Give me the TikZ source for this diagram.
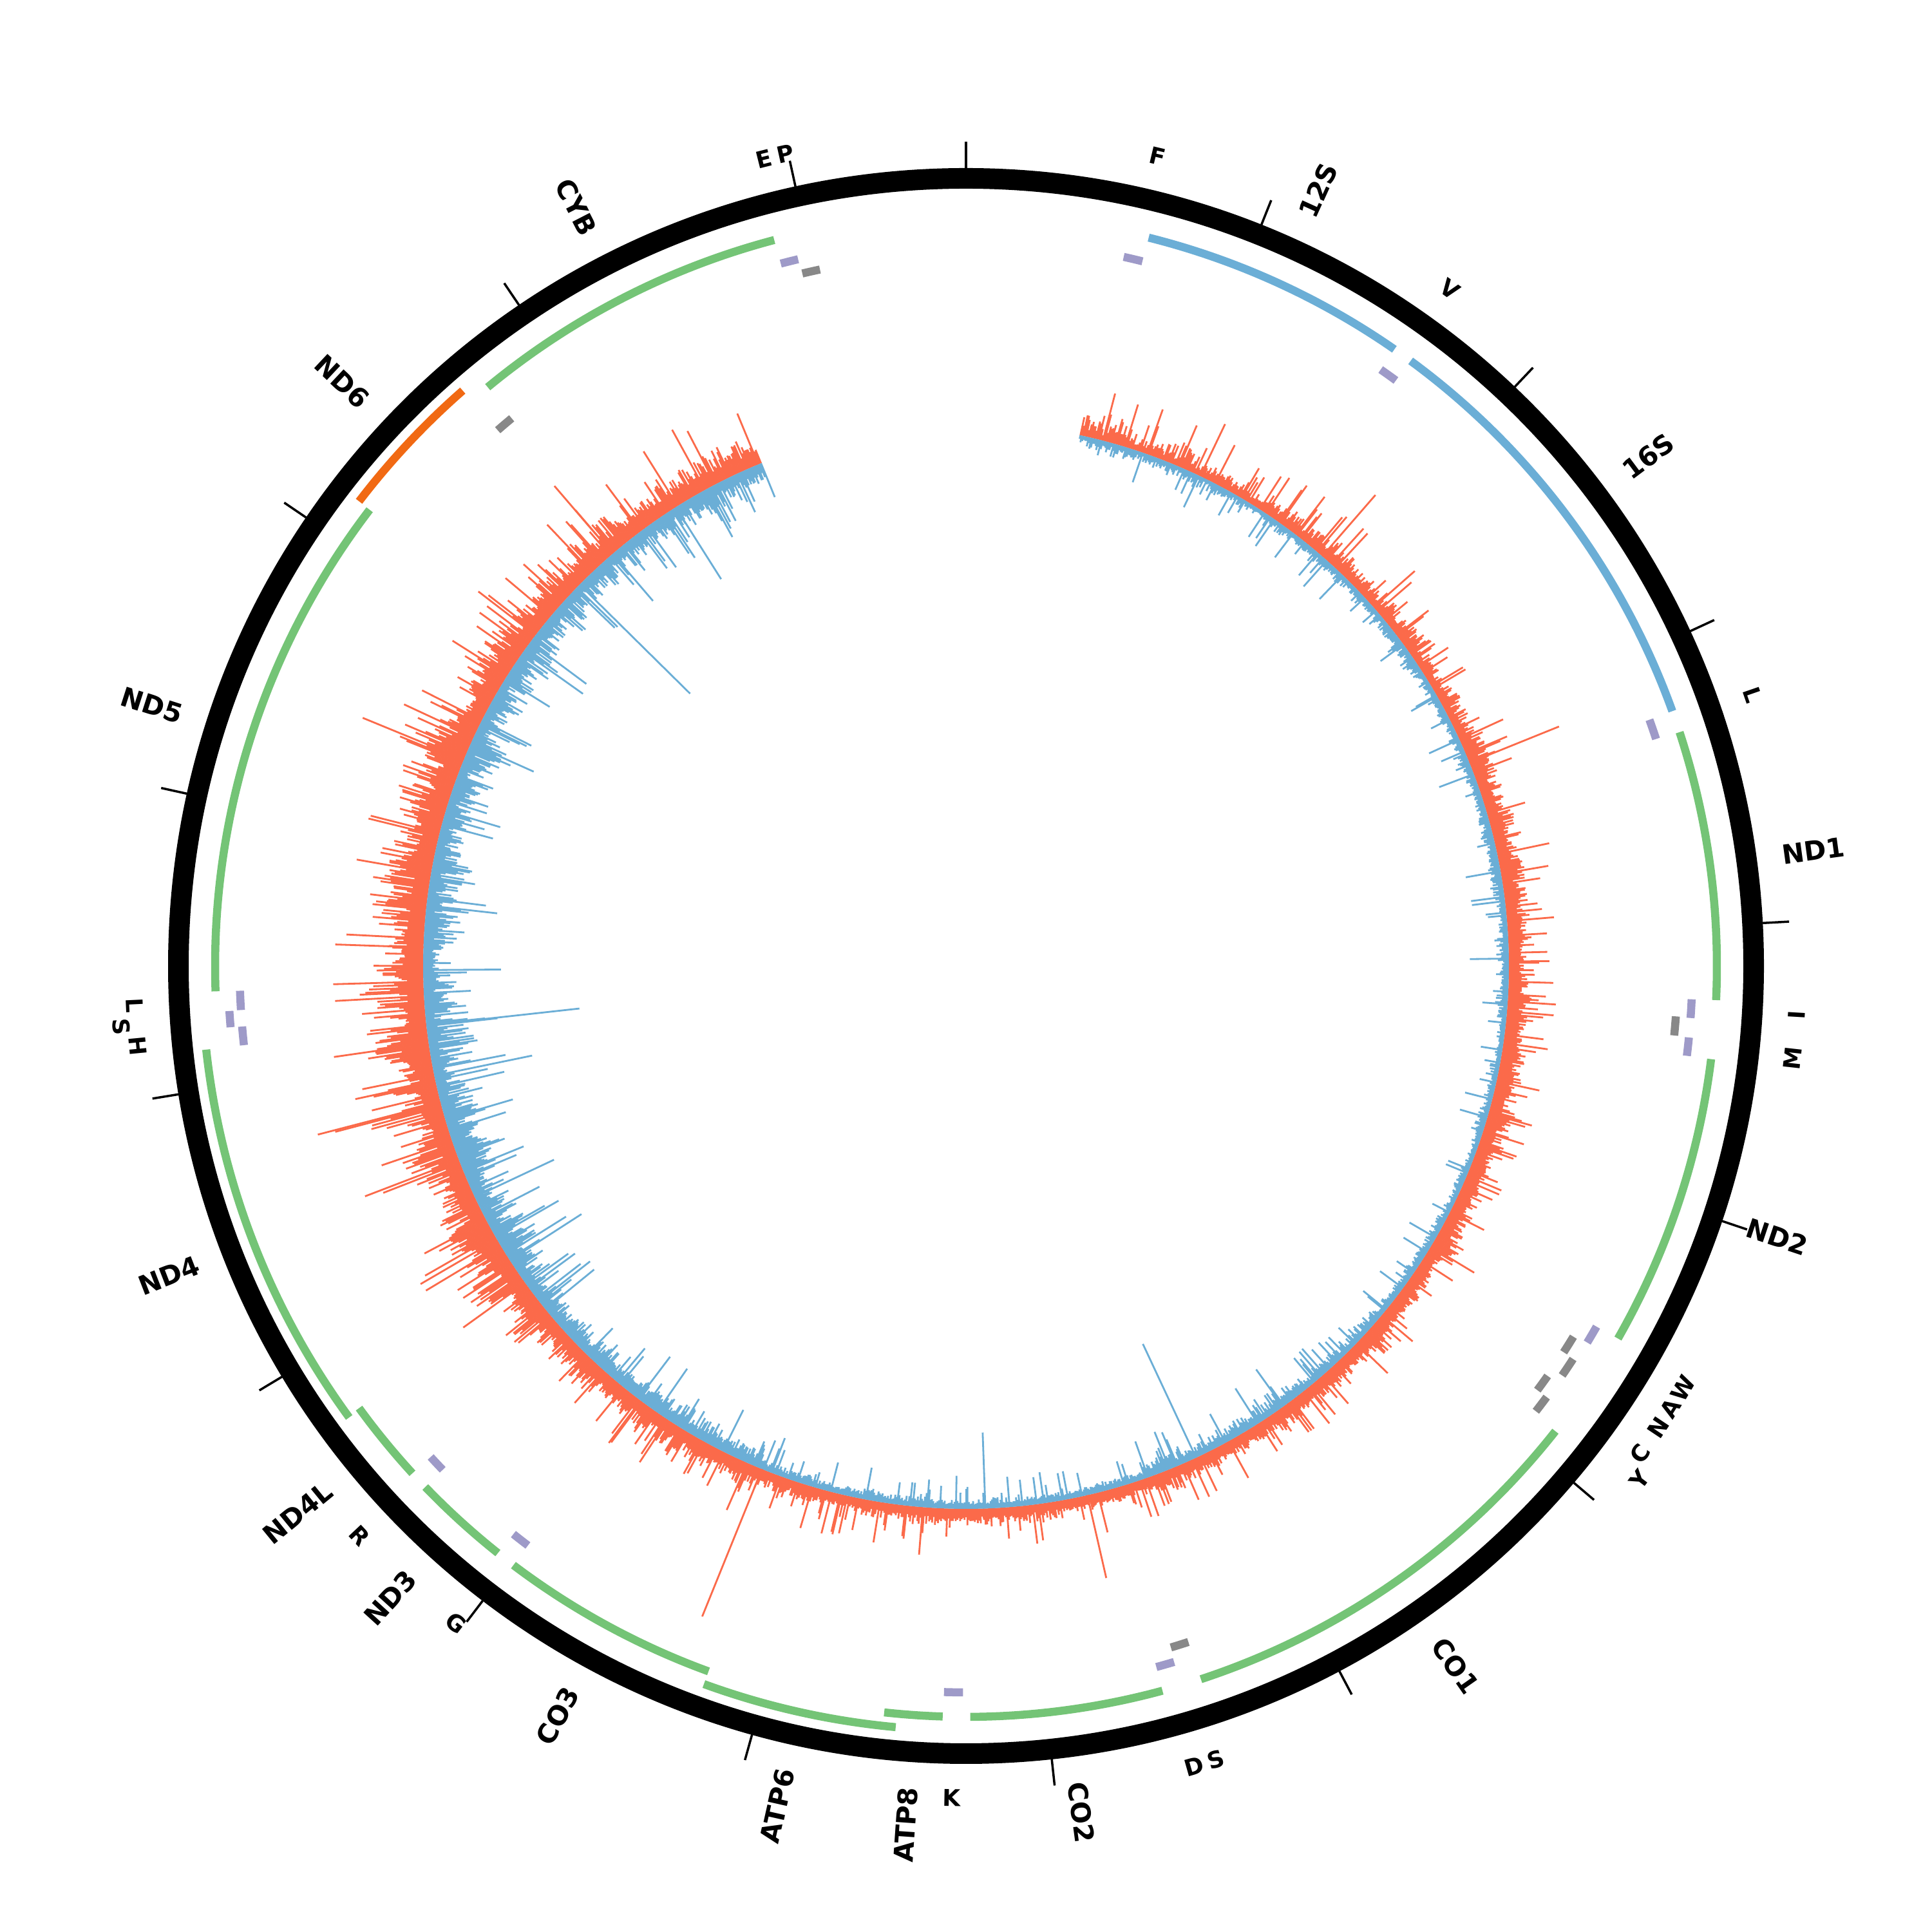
\documentclass[tikz,border=0pt]{standalone}
\usepackage{fontspec}
\setmainfont{DejaVu Sans}
\definecolor{ggreen}{RGB}{116,196,118}
\definecolor{gblue}{RGB}{107,174,214}
\definecolor{gorange}{RGB}{241,105,19}
\definecolor{gpurple}{RGB}{158,154,200}
\definecolor{ggray}{RGB}{136,136,136}
\definecolor{covred}{RGB}{251,106,74}
\definecolor{covblue}{RGB}{107,174,214}
\newcommand\bpk{0.02172734}
\newcommand\genearc[4]{%
  \pgfmathsetmacro\gaa{90-#1*\bpk}%
  \pgfmathsetmacro\gab{90-#2*\bpk}%
  \draw[bandline,#4] (\gaa:#3) arc[start angle=\gaa, end angle=\gab, radius=#3];%
}
\newcommand\genelabel[2]{%
  \pgfmathsetmacro\lth{#1*\bpk}%
  \pgfmathsetmacro\lpa{90-\lth}%
  \ifdim\lth pt<180pt
    \node[glab,anchor=west,rotate=\lpa] (gene-#2) at (\lpa:12.78) {#2};%
  \else
    \pgfmathsetmacro\lpr{\lpa+180}%
    \node[glab,anchor=east,rotate=\lpr] (gene-#2) at (\lpa:12.78) {#2};%
  \fi
}
\newcommand\trnalabel[3]{%
  \pgfmathsetmacro\tth{#1*\bpk}%
  \pgfmathsetmacro\tpa{90-\tth}%
  \pgfmathsetmacro\trot{(\tth>90)*(\tth<270)*(180-\tth)+(1-(\tth>90)*(\tth<270))*(-\tth)}%
  \node[tlab,rotate=\trot] (trna-#1) at (\tpa:#3) {#2};%
}
\begin{document}
\begin{tikzpicture}[
  bandline/.style={line width=0.125cm},
  tickline/.style={line width=1pt,black},
  glab/.style={font=\fontsize{11.8}{14}\selectfont\bfseries,inner sep=0pt,black},
  tlab/.style={font=\fontsize{10.2}{12}\selectfont\bfseries,inner sep=0pt,black},
  covr/.style={covred,line width=0.8pt},
  covb/.style={covblue,line width=0.8pt}
]
\useasboundingbox (0,0) rectangle (30,30);
\begin{scope}[shift={(15,15)}]
% outer ring
\draw[line width=0.32cm,black] (0,0) circle[radius=12.23];
% ticks every 1000 bp
\foreach \k in {0,...,16}{
  \pgfmathsetmacro\tka{90-\k*1000*\bpk}
  \draw[tickline] (\tka:12.39) -- (\tka:12.80);
}
% gene labels
\genelabel{1124}{12S}
\genelabel{2450}{16S}
\genelabel{3785}{ND1}
\genelabel{4991}{ND2}
\genelabel{6675}{CO1}
\genelabel{7928}{CO2}
\genelabel{8469}{ATP8}
\genelabel{8867}{ATP6}
\genelabel{9599}{CO3}
\genelabel{10232}{ND3}
\genelabel{10618}{ND4L}
\genelabel{11449}{ND4}
\genelabel{13243}{ND5}
\genelabel{14411}{ND6}
\genelabel{15317}{CYB}
% tRNA labels
\trnalabel{612}{F}{12.92}
\trnalabel{1636}{V}{12.92}
\trnalabel{3267}{L}{12.92}
\trnalabel{4297}{I}{12.92}
\trnalabel{4436}{M}{12.92}
\trnalabel{5546}{W}{12.92}
\trnalabel{5621}{A}{12.92}
\trnalabel{5693}{N}{12.92}
\trnalabel{5794}{C}{12.92}
\trnalabel{5859}{Y}{13.15}
\trnalabel{7480}{S}{12.92}
\trnalabel{7552}{D}{12.92}
\trnalabel{8330}{K}{12.92}
\trnalabel{10025}{G}{12.92}
\trnalabel{10437}{R}{12.92}
\trnalabel{12172}{H}{12.92}
\trnalabel{12236}{S}{13.15}
\trnalabel{12301}{L}{12.92}
\trnalabel{15921}{E}{12.92}
\trnalabel{15990}{P}{12.92}
% genes, main row
\genearc{648}{1601}{11.66}{gblue}
\genearc{1671}{3229}{11.66}{gblue}
\genearc{3307}{4262}{11.66}{ggreen}
\genearc{4470}{5511}{11.66}{ggreen}
\genearc{5904}{7445}{11.66}{ggreen}
\genearc{7586}{8269}{11.66}{ggreen}
\genearc{8366}{8572}{11.66}{ggreen}
\genearc{9207}{9990}{11.66}{ggreen}
\genearc{10059}{10404}{11.66}{ggreen}
\genearc{10470}{10766}{11.66}{ggreen}
\genearc{12337}{14148}{11.66}{ggreen}
\genearc{14747}{15887}{11.66}{ggreen}
% genes, outer row
\genearc{8527}{9207}{11.87}{ggreen}
\genearc{10760}{12137}{11.87}{ggreen}
\genearc{14149}{14673}{11.87}{gorange}
% tRNAs
\foreach \s/\e/\r/\c in {577/647/11.28/gpurple,1602/1670/11.28/gpurple,3230/3304/11.28/gpurple,
  4263/4331/11.28/gpurple,4329/4400/11.05/ggray,4402/4469/11.28/gpurple,
  5512/5579/11.28/gpurple,5587/5655/11.05/ggray,5657/5729/11.23/ggray,
  5761/5826/11.05/ggray,5826/5891/11.23/ggray,7446/7514/11.05/ggray,
  7518/7585/11.28/gpurple,8295/8364/11.28/gpurple,9991/10058/11.28/gpurple,
  10405/10469/11.28/gpurple,12138/12206/11.28/gpurple,12207/12265/11.46/gpurple,
  12266/12336/11.28/gpurple,14674/14742/11.05/ggray,15888/15953/11.28/gpurple,
  15956/16023/11.05/ggray}{
  \genearc{\s}{\e}{\r}{\c}
}
% coverage track
\pgfmathsetseed{11}
\foreach \s/\e/\rb/\ra/\rs/\bb/\ba/\bs in {
  560/1200/8/45/60/5/28/45,
  1200/1700/8/30/55/5/18/40,
  1700/3000/10/35/60/6/20/40,
  3000/4300/16/40/55/7/20/45,
  4300/5600/18/38/45/6/16/35,
  5600/6500/16/32/45/7/20/40,
  6500/7400/14/30/50/9/30/55,
  7400/8200/12/25/50/7/16/45,
  8200/9300/12/25/50/7/16/45,
  9300/10600/16/45/60/12/40/60,
  10600/12000/22/90/90/14/75/80,
  12000/13600/24/95/90/12/75/80,
  13600/14700/20/70/80/12/60/70,
  14700/15550/18/62/70/12/55/60}{
  \pgfmathtruncatemacro\sn{\s+7}
  \foreach \p in {\s,\sn,...,\e}{
    \pgfmathsetmacro\ang{90-\p*\bpk}
    \pgfmathsetmacro\covm{0.7+0.3*sin(\p*0.9)*sin(\p*0.31)}
    \pgfmathsetmacro\rr{8.43+(\rb+\ra*\covm*rnd*(0.4+0.6*rnd)+(rnd>0.85)*\rs*rnd)/100}
    \pgfmathsetmacro\br{8.43-(\bb+\ba*\covm*rnd*(0.4+0.6*rnd)+(rnd>0.88)*\bs*rnd)/100}
    \draw[covr] (\ang:8.43) -- (\ang:\rr);
    \draw[covb] (\ang:8.43) -- (\ang:\br);
  }
}
% isolated long peaks
\foreach \p/\l in {1887/126,3130/150,7690/132,9300/247,11755/197,12350/140,12516/137,13455/170}{
  \pgfmathsetmacro\ang{90-\p*\bpk}
  \pgfmathsetmacro\rr{8.43+\l/100}
  \draw[covr] (\ang:8.43) -- (\ang:\rr);
}
\foreach \p/\l in {7130/195,8190/118,10950/110,11267/136,11889/155,12137/239,14480/241,15080/132}{
  \pgfmathsetmacro\ang{90-\p*\bpk}
  \pgfmathsetmacro\br{8.43-\l/100}
  \draw[covb] (\ang:8.43) -- (\ang:\br);
}
\end{scope}
\end{tikzpicture}
\end{document}
